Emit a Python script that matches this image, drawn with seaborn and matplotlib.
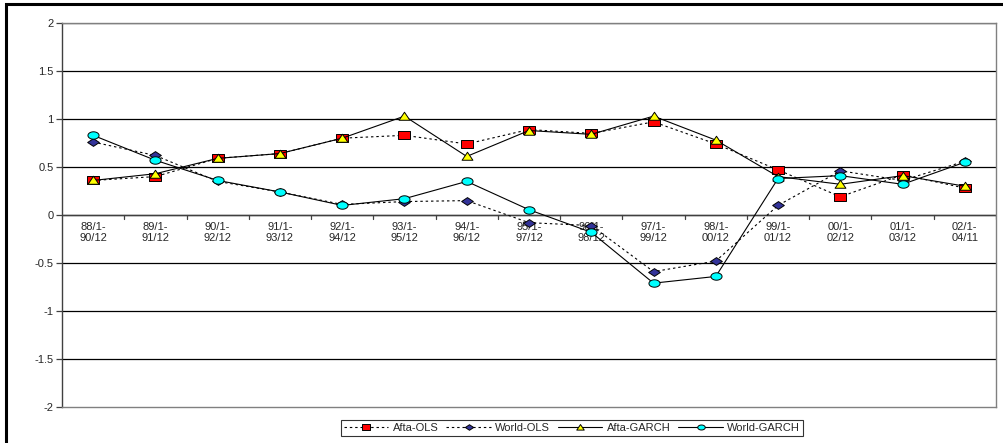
import numpy as np
import pandas as pd
import matplotlib
matplotlib.use("Agg")
import matplotlib.pyplot as plt
from matplotlib.patches import Rectangle
from matplotlib.path import Path
import seaborn as sns

periods = ["88/1-\n90/12", "89/1-\n91/12", "90/1-\n92/12", "91/1-\n93/12", "92/1-\n94/12",
           "93/1-\n95/12", "94/1-\n96/12", "95/1-\n97/12", "96/1-\n98/12", "97/1-\n99/12",
           "98/1-\n00/12", "99/1-\n01/12", "00/1-\n02/12", "01/1-\n03/12", "02/1-\n04/11"]

afta_ols = [0.36, 0.40, 0.59, 0.64, 0.80, 0.83, 0.74, 0.89, 0.85, 0.97, 0.74, 0.47, 0.19, 0.42, 0.28]
world_ols = [0.76, 0.62, 0.35, 0.24, 0.11, 0.14, 0.15, -0.08, -0.11, -0.59, -0.48, 0.10, 0.46, 0.36, 0.56]
afta_garch = [0.36, 0.43, 0.59, 0.64, 0.80, 1.03, 0.61, 0.88, 0.84, 1.03, 0.78, 0.40, 0.32, 0.41, 0.30]
world_garch = [0.83, 0.57, 0.36, 0.24, 0.10, 0.17, 0.35, 0.055, -0.18, -0.71, -0.64, 0.38, 0.41, 0.32, 0.55]

sns.set_theme(style="white")
plt.rcParams["font.family"] = ["Liberation Sans", "DejaVu Sans"]


def wide(verts, sx):
    """Closed marker path stretched horizontally by sx."""
    v = np.asarray(verts, dtype=float) * [sx, 1.0]
    v = np.vstack([v, v[:1]])
    codes = [Path.MOVETO] + [Path.LINETO] * (len(v) - 2) + [Path.CLOSEPOLY]
    return Path(v, codes)


t = np.linspace(0, 2 * np.pi, 40, endpoint=False)
m_square = wide([[-1, -1], [1, -1], [1, 1], [-1, 1]], 1.4)
m_diamond = wide([[0, -1], [1, 0], [0, 1], [-1, 0]], 1.5)
m_triangle = wide([[-1, -0.75], [1, -0.75], [0, 0.85]], 1.35 * 0.8)
m_circle = wide(np.c_[np.cos(t), np.sin(t)], 1.5)

W, H = 1004, 443
fig = plt.figure(figsize=(W / 100, H / 100), dpi=100)
ax = fig.add_axes([62 / W, (H - 407) / H, (996 - 62) / W, (407 - 23) / H])

pos = np.arange(len(periods))
df = pd.DataFrame({"pos": pos, "Afta-OLS": afta_ols, "World-OLS": world_ols,
                   "Afta-GARCH": afta_garch, "World-GARCH": world_garch})

dash = (0, (2.2, 2.6))
styles = [
    ("Afta-OLS", dash, m_square, "#FF0000", 8.0, 5.2),
    ("World-OLS", dash, m_diamond, "#333399", 8.4, 6.0),
    ("Afta-GARCH", "-", m_triangle, "#FFFF00", 7.8, 5.4),
    ("World-GARCH", "-", m_circle, "#00FFFF", 8.0, 5.4),
]
for i, (name, ls, mk, fc, ms, _) in enumerate(styles):
    sns.lineplot(data=df, x="pos", y=name, ax=ax, color="black", linewidth=0.8,
                 linestyle=ls, marker=mk, markersize=ms, markerfacecolor=fc,
                 markeredgecolor="black", markeredgewidth=0.7, label=name,
                 zorder=3 + i, legend=False)

ax.set_xlim(-0.5, len(periods) - 0.5)
ax.set_ylim(-2, 2)
ax.set_yticks(np.arange(-2, 2.01, 0.5))
ax.set_yticklabels(["-2", "-1.5", "-1", "-0.5", "0", "0.5", "1", "1.5", "2"])
for yv in np.arange(-1.5, 2.01, 0.5):
    ax.axhline(yv, color="black", linewidth=0.9, zorder=1)

# plot-area frame
for s in ["top", "right", "bottom"]:
    ax.spines[s].set_visible(True)
    ax.spines[s].set_color("#808080")
    ax.spines[s].set_linewidth(1.0)
ax.spines["left"].set_color("#404040")
ax.spines["left"].set_linewidth(1.0)

# category axis drawn along zero
ax.axhline(0, color="#404040", linewidth=1.0, zorder=2)
for b in np.arange(0.5, len(periods), 1):
    ax.plot([b, b], [0, -0.04], color="#404040", linewidth=0.9, zorder=2)
ax.set_xticks([])
for x, lab in zip(pos, periods):
    ax.text(x, -0.07, lab, ha="center", va="top", fontsize=8, linespacing=1.15, zorder=2)

ax.tick_params(axis="y", left=True, length=4, width=0.9, color="#404040",
               labelsize=8, pad=2)
ax.set_xlabel("")
ax.set_ylabel("")

handles, labels = ax.get_legend_handles_labels()
leg = fig.legend(handles, labels, loc="center", bbox_to_anchor=(572 / W, (H - 428) / H),
                 ncol=4, fontsize=8, frameon=True, fancybox=False, handlelength=4.0,
                 columnspacing=0.7, handletextpad=0.4, borderpad=0.25)
leg.get_frame().set_edgecolor("black")
leg.get_frame().set_linewidth(0.8)
for h, st in zip(leg.legend_handles, styles):
    h.set_markersize(st[5])

# outer chart border
fig.patches.append(Rectangle((6 / W, -0.2), 2.0, (H - 4) / H + 0.2, transform=fig.transFigure,
                             fill=False, edgecolor="black", linewidth=2.2))

fig.savefig("out.png", dpi=100)
